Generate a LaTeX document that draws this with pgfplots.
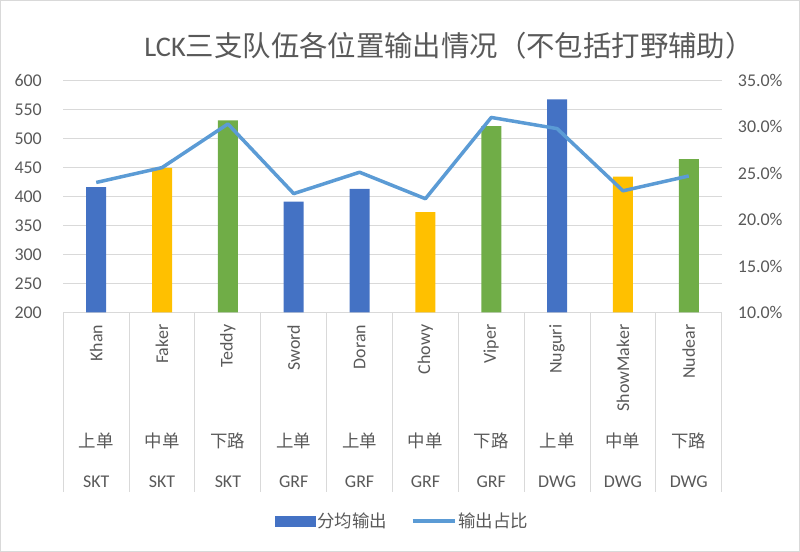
\documentclass[border=0pt]{standalone}
\usepackage{fontspec}
\setmainfont{Carlito}
\newfontfamily\cjk{Noto Sans CJK SC}
\usepackage{pgfplots}
\pgfplotsset{compat=1.18}
\definecolor{barblue}{HTML}{4472C4}
\definecolor{baryellow}{HTML}{FFC000}
\definecolor{bargreen}{HTML}{70AD47}
\definecolor{linecolor}{HTML}{5B9BD5}
\definecolor{gridgray}{HTML}{D9D9D9}
\definecolor{textgray}{HTML}{595959}
\begin{document}
\begin{tikzpicture}
\useasboundingbox (0bp,0bp) rectangle (800bp,552bp);
\draw[gridgray, line width=1bp] (0.5bp,0.5bp) rectangle (799.5bp,551.5bp);
\node[text=textgray, font=\fontsize{28.5}{32}\selectfont, inner sep=0pt] at (449bp,506bp) {LCK{\cjk 三支队伍各位置输出情况（不包括打野辅助）}};

\begin{axis}[
  at={(63.3bp,239.5bp)}, anchor=south west, scale only axis,
  width=658.4bp, height=232.2bp,
  xmin=-0.5, xmax=9.5, ymin=200, ymax=600,
  ytick={200,250,...,600}, xtick=\empty,
  axis x line*=bottom, axis y line*=left,
  x axis line style={gridgray, line width=1bp},
  y axis line style={draw=none},
  ytick style={draw=none},
  ymajorgrids, grid style={gridgray, line width=1bp},
  yticklabel style={text=textgray, font=\fontsize{18}{20}\selectfont, inner sep=0pt, xshift=-21.3bp, anchor=east},
  /pgf/number format/assume math mode=true,
  after end axis/.code={
    \foreach \x in {-0.5,0.5,...,9.5} {\draw[gridgray, line width=1bp] (axis cs:\x,200) -- ++(0bp,-179.5bp);}
    \foreach \i/\n/\p/\t in {0/Khan/上单/SKT,1/Faker/中单/SKT,2/Teddy/下路/SKT,3/Sword/上单/GRF,4/Doran/上单/GRF,5/Chowy/中单/GRF,6/Viper/下路/GRF,7/Nuguri/上单/DWG,8/ShowMaker/中单/DWG,9/Nudear/下路/DWG} {
      \node[rotate=90, anchor=east, inner sep=0pt, text=textgray, font=\fontsize{18}{20}\selectfont] at ([yshift=-12bp]axis cs:\i,200) {\n};
      \node[anchor=base, inner sep=0pt, text=textgray, font=\cjk\fontsize{17.5}{20}\selectfont] at ([yshift=-135bp]axis cs:\i,200) {\p};
      \node[anchor=base, inner sep=0pt, text=textgray, font=\fontsize{18}{20}\selectfont] at ([yshift=-175bp]axis cs:\i,200) {\t};
    }
  },
]
\addplot[ybar, bar width=20bp, bar shift=0pt, fill=barblue, draw=none] coordinates {(0,416) (3,391) (4,413) (7,567)};
\addplot[ybar, bar width=20bp, bar shift=0pt, fill=baryellow, draw=none] coordinates {(1,449) (5,373) (8,434)};
\addplot[ybar, bar width=20bp, bar shift=0pt, fill=bargreen, draw=none] coordinates {(2,531) (6,521) (9,464)};
\end{axis}

\begin{axis}[
  at={(63.3bp,239.5bp)}, anchor=south west, scale only axis,
  width=658.4bp, height=232.2bp,
  xmin=-0.5, xmax=9.5, ymin=10, ymax=35,
  ytick={10,15,...,35}, xtick=\empty,
  axis x line=none, axis y line*=right,
  y axis line style={draw=none},
  ytick style={draw=none},
  yticklabel={\pgfmathprintnumber[fixed,fixed zerofill,precision=1,assume math mode=true]{\tick}\%},
  yticklabel style={text=textgray, font=\fontsize{18}{20}\selectfont, inner sep=0pt, xshift=16bp, anchor=west},
  legend style={font=\cjk\fontsize{17.5}{20}\selectfont, text=textgray, draw=none, fill=none,
    legend columns=2, at={(0.5,0)}, anchor=center, xshift=10bp, yshift=-208.5bp,
    /tikz/every even column/.append style={column sep=22bp}},
  legend cell align=left,
]
\addlegendimage{legend image code/.code={\fill[barblue] (0bp,-5bp) rectangle (40bp,5bp);}}
\addlegendentry{分均输出}
\addlegendimage{legend image code/.code={\draw[linecolor, line width=3.5bp] (0bp,0bp) -- (42bp,0bp);}}
\addlegendentry{输出占比}
\addplot[linecolor, line width=3.5bp, line join=round, forget plot] coordinates {
(0,24.0) (1,25.6) (2,30.3) (3,22.8) (4,25.1) (5,22.25) (6,31.0) (7,29.8) (8,23.1) (9,24.7)};
\end{axis}
\end{tikzpicture}
\end{document}
